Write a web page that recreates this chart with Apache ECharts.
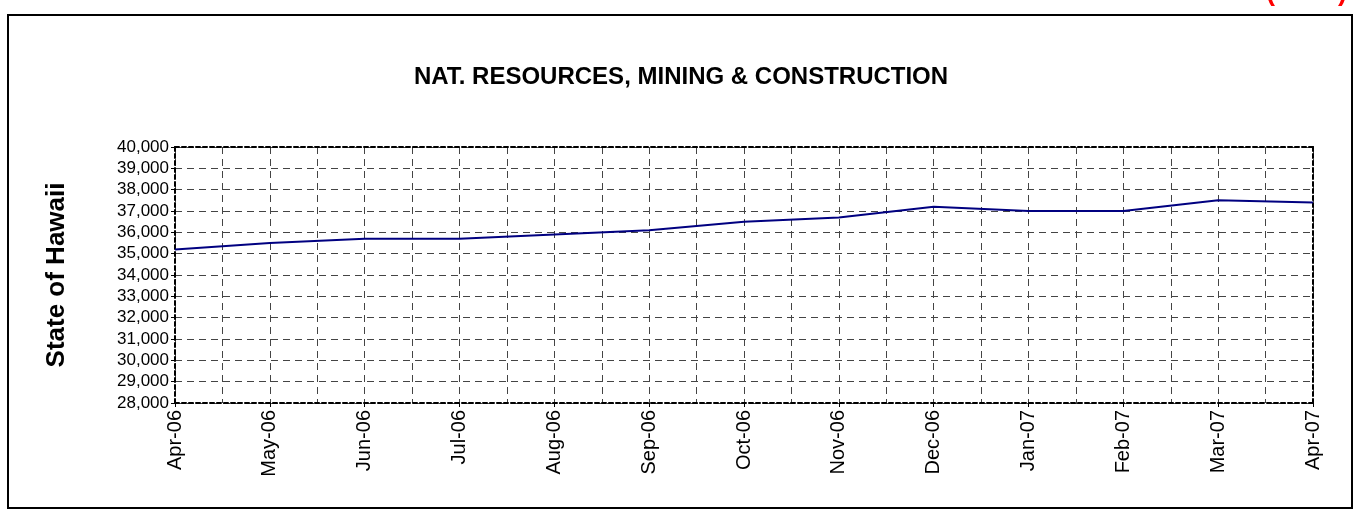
<!DOCTYPE html>
<html>
<head>
<meta charset="utf-8">
<title>Nat. Resources, Mining & Construction</title>
<script src="https://cdn.jsdelivr.net/npm/echarts@6/dist/echarts.min.js"></script>
<style>
    html, body {
        margin: 0;
        padding: 0;
        background: #fff;
    }
    #chart {
        width: 1362px;
        height: 525px;
    }
</style>
</head>
<body>
<div id="chart"></div>
<script>
const months = [
    'Apr-06', 'May-06', 'Jun-06', 'Jul-06', 'Aug-06', 'Sep-06', 'Oct-06',
    'Nov-06', 'Dec-06', 'Jan-07', 'Feb-07', 'Mar-07', 'Apr-07'
];

// jobs, state of Hawaii
const jobs = [
    35200, 35500, 35700, 35700, 35900, 36100, 36500,
    36700, 37200, 37000, 37000, 37500, 37400
];

const yMin = 28000;
const yMax = 40000;
const yStep = 1000;

// half-month slots, only used for the vertical grid lines
const halfSlots = [];
for (let i = 0; i < months.length * 2 - 1; i++) {
    halfSlots.push('');
}

const FONT = '"Liberation Sans", Arial, sans-serif';

const borderLine = {
    show: true,
    lineStyle: {
        color: '#000',
        width: 2,
        type: [4, 3]
    }
};

const gridLine = {
    show: true,
    lineStyle: {
        color: '#444',
        width: 1,
        type: [7, 5]
    }
};

const chart = echarts.init(document.getElementById('chart'));

chart.setOption({
    animation: false,
    backgroundColor: '#fff',
    title: {
        text: 'NAT. RESOURCES, MINING & CONSTRUCTION',
        left: 'center',
        top: 60,
        textStyle: {
            fontFamily: FONT,
            fontSize: 24,
            fontWeight: 'bold',
            color: '#000'
        }
    },
    graphic: [{
        type: 'rect',
        shape: { x: 8, y: 15, width: 1344, height: 493 },
        style: { fill: null, stroke: '#000', lineWidth: 2 },
        z: 100
    }, {
        type: 'text',
        style: {
            x: 1347,
            y: 6,
            text: '(   P   )',
            align: 'right',
            verticalAlign: 'bottom',
            fill: '#ff0000',
            font: 'bold 27px ' + FONT
        }
    }],
    grid: {
        left: 175,
        right: 49,
        top: 147,
        bottom: 122
    },
    xAxis: [{
        type: 'category',
        data: months,
        boundaryGap: false,
        axisLine: borderLine,
        axisTick: {
            show: true,
            inside: false,
            length: 4,
            lineStyle: { color: '#000' }
        },
        axisLabel: {
            rotate: 90,
            margin: 7,
            fontFamily: FONT,
            fontSize: 20,
            color: '#000'
        },
        splitLine: { show: false }
    }, {
        type: 'category',
        data: halfSlots,
        position: 'top',
        boundaryGap: false,
        axisLine: borderLine,
        axisTick: { show: false },
        axisLabel: { show: false },
        splitLine: gridLine
    }],
    yAxis: [{
        type: 'value',
        min: yMin,
        max: yMax,
        interval: yStep,
        name: 'State of Hawaii',
        nameLocation: 'middle',
        nameGap: 105,
        nameTextStyle: {
            fontFamily: FONT,
            fontSize: 26,
            fontWeight: 'bold',
            color: '#000'
        },
        axisLine: borderLine,
        axisTick: {
            show: true,
            length: 4,
            lineStyle: { color: '#000' }
        },
        axisLabel: {
            margin: 6,
            fontFamily: FONT,
            fontSize: 17,
            color: '#000',
            formatter: v => v.toLocaleString('en-US')
        },
        splitLine: gridLine
    }, {
        type: 'value',
        position: 'right',
        min: yMin,
        max: yMax,
        interval: yStep,
        axisLine: borderLine,
        axisTick: { show: false },
        axisLabel: { show: false },
        splitLine: { show: false }
    }],
    series: [{
        type: 'line',
        data: jobs,
        showSymbol: false,
        lineStyle: {
            color: '#000080',
            width: 2
        },
        z: 10
    }]
});
</script>
</body>
</html>
